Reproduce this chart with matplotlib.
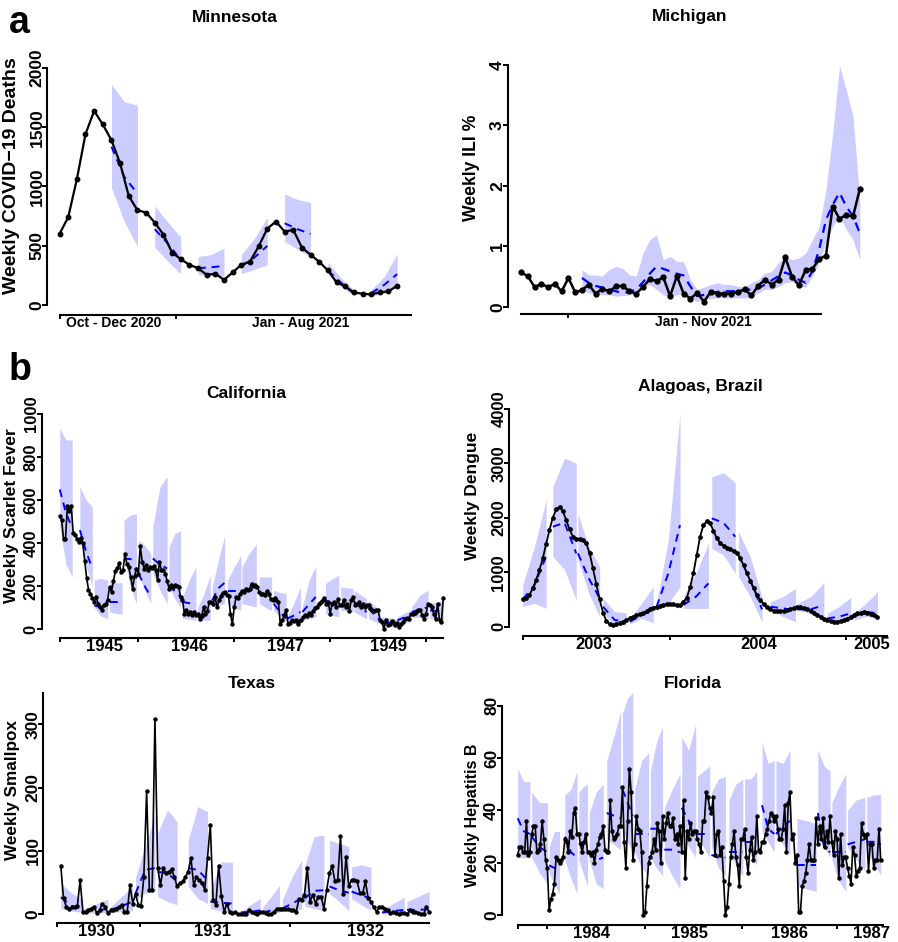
import numpy as np
import matplotlib.pyplot as plt

plt.rcParams['font.family'] = ['Liberation Sans', 'DejaVu Sans']
plt.rcParams['font.weight'] = 'bold'

W, H = 898, 942
BAND = '#ccccff'
MED = '#0000ff'

# ---------------- data ----------------
# Minnesota, weekly COVID-19 deaths
mn_obs = [600, 740, 1060, 1442, 1638, 1523, 1391, 1195, 920, 800, 780, 696, 595, 443, 387,
          340, 311, 255, 264, 213, 275, 340, 367, 494, 645, 704, 620, 634, 485, 424, 365,
          292, 191, 157, 107, 95, 90, 107, 115, 163]
mn_seg = [(6, 9), (11, 14), (16, 19), (21, 24), (26, 29), (31, 34), (36, 39)]
mn_hi = [[1860, 1715, 1685], [836, 700, 572], [410, 425, 480], [424, 560, 740],
         [937, 890, 867], [359, 230, 129], [129, 240, 432]]
mn_lo = [[990, 700, 494], [488, 370, 264], [255, 250, 241], [264, 300, 340],
         [536, 470, 410], [275, 160, 73], [73, 100, 157]]
mn_med = [[1335, 1080, 940], [640, 520, 381], [311, 318, 331], [325, 400, 499],
          [690, 640, 600], [292, 190, 95], [101, 170, 261]]

# Michigan, weekly ILI %
mi_obs = [0.57, 0.51, 0.33, 0.38, 0.33, 0.38, 0.26, 0.48, 0.24, 0.28, 0.37, 0.22, 0.30,
          0.26, 0.34, 0.35, 0.26, 0.22, 0.33, 0.46, 0.43, 0.49, 0.18, 0.51, 0.22, 0.14,
          0.23, 0.09, 0.25, 0.22, 0.22, 0.22, 0.25, 0.29, 0.19, 0.35, 0.45, 0.37, 0.45,
          0.82, 0.50, 0.36, 0.61, 0.63, 0.79, 0.85, 1.66, 1.46, 1.52, 1.50, 1.95]
mi_band_start = 9
mi_hi = [0.62, 0.53, 0.53, 0.51, 0.62, 0.67, 0.64, 0.53, 0.51, 0.89, 1.11, 1.19, 0.78, 0.84,
         0.75, 0.75, 0.45, 0.29, 0.33, 0.37, 0.40, 0.37, 0.37, 0.34, 0.33, 0.40, 0.45, 0.56,
         0.59, 0.73, 0.84, 0.78, 0.81, 0.89, 1.11, 1.33, 1.94, 2.87, 3.99, 3.59, 3.15, 1.77]
mi_lo = [0.28, 0.23, 0.22, 0.20, 0.20, 0.18, 0.19, 0.20, 0.23, 0.34, 0.37, 0.29, 0.20, 0.18,
         0.20, 0.23, 0.15, 0.09, 0.12, 0.14, 0.15, 0.15, 0.15, 0.15, 0.15, 0.16, 0.23, 0.29,
         0.29, 0.34, 0.40, 0.42, 0.34, 0.33, 0.51, 0.73, 1.06, 1.33, 1.50, 1.28, 1.11, 0.78]
mi_med = [0.48, 0.40, 0.35, 0.32, 0.29, 0.26, 0.23, 0.25, 0.29, 0.41, 0.55, 0.67, 0.63, 0.59,
          0.55, 0.52, 0.34, 0.18, 0.20, 0.23, 0.25, 0.26, 0.26, 0.26, 0.28, 0.29, 0.31, 0.37,
          0.44, 0.51, 0.57, 0.52, 0.45, 0.40, 0.59, 0.95, 1.44, 1.69, 1.89, 1.66, 1.50, 1.22]

# California, weekly scarlet fever
ca_obs = [526, 506, 418, 418, 573, 550, 573, 447, 435, 420, 405, 424, 398, 317, 239, 183, 165,
          146, 126, 149, 118, 102, 90, 110, 118, 137, 196, 172, 224, 269, 284, 307, 266, 273,
          351, 301, 286, 242, 188, 245, 281, 258, 387, 312, 281, 297, 273, 289, 284, 293, 273,
          230, 312, 276, 276, 258, 224, 188, 203, 193, 203, 200, 196, 149, 137, 68, 87, 68, 79,
          64, 79, 64, 68, 48, 59, 102, 68, 84, 126, 126, 118, 149, 102, 134, 152, 168, 172, 157,
          155, 71, 22, 102, 149, 146, 162, 177, 172, 188, 183, 188, 211, 199, 203, 196, 172, 165,
          165, 157, 177, 162, 141, 134, 146, 137, 126, 22, 40, 64, 90, 25, 28, 40, 37, 40, 22,
          36, 40, 56, 64, 59, 75, 64, 84, 99, 102, 118, 126, 134, 146, 118, 126, 71, 118, 126,
          102, 141, 110, 110, 134, 102, 118, 84, 134, 149, 110, 118, 126, 102, 118, 102, 110,
          110, 99, 90, 84, 90, 87, 43, 33, 0, 40, 17, 25, 37, 33, 20, 28, 9, 22, 33, 48, 53, 48,
          71, 71, 75, 79, 87, 90, 64, 48, 71, 118, 110, 102, 71, 48, 118, 40, 33, 146]
ca_seg = [(0, 6.5), (10.5, 17), (18, 25), (26, 32.5), (33.5, 40), (41, 47.5), (48.5, 56),
          (57, 63), (64, 71), (72, 78.5), (79.5, 86), (87.5, 94.5), (95, 102.5), (104, 110.5),
          (111.5, 118), (118.5, 125.5), (126.5, 133.5), (138.5, 145.5), (146.5, 153),
          (153.5, 160), (161, 167), (168, 175), (176, 182.5), (183.5, 192), (193, 200)]
ca_hi = [[933, 880, 879], [662, 600, 568], [227, 235, 227], [225, 215, 215], [506, 530, 537],
         [413, 390, 351], [475, 662, 708], [382, 444, 457], [149, 227, 289], [102, 165, 250],
         [196, 320, 436], [227, 289, 343], [289, 351, 394], [242, 242, 242], [180, 170, 165],
         [56, 118, 196], [102, 227, 292], [211, 234, 250], [196, 192, 188], [180, 160, 141],
         [134, 110, 87], [56, 52, 48], [56, 72, 87], [102, 157, 180], [118, 126, 134]]
ca_lo = [[475, 300, 242], [444, 290, 200], [100, 60, 48], [80, 72, 68], [335, 200, 118],
         [258, 180, 118], [258, 180, 118], [196, 140, 102], [48, 45, 40], [40, 40, 40],
         [102, 110, 118], [118, 100, 87], [118, 110, 102], [118, 100, 87], [87, 60, 33],
         [33, 33, 33], [40, 48, 56], [71, 64, 56], [87, 83, 79], [79, 63, 48], [48, 36, 25],
         [17, 13, 9], [25, 29, 33], [56, 52, 48], [48, 44, 40]]
ca_med = [[649, 540, 470], [460, 360, 281], [110, 100, 95], [125, 125, 125], [328, 325, 320],
          [258, 200, 149], [328, 300, 281], [203, 175, 149], [126, 120, 118], [56, 70, 84],
          [134, 190, 215], [177, 177, 177], [177, 182, 188], [172, 155, 141], [118, 80, 48],
          [48, 62, 79], [79, 115, 149], [134, 118, 102], [110, 110, 110], [126, 100, 79],
          [95, 68, 40], [33, 29, 25], [40, 52, 64], [79, 90, 102], [87, 83, 79]]

# Alagoas, Brazil, weekly dengue
al_obs = [502, 533, 582, 704, 858, 1041, 1256, 1519, 1777, 2003, 2156, 2205, 2126, 1960, 1789,
          1654, 1617, 1611, 1593, 1532, 1348, 1072, 778, 502, 257, 104, 49, 25, 43, 61, 92, 123,
          153, 184, 208, 233, 257, 288, 319, 349, 368, 386, 398, 410, 410, 410, 404, 398, 459,
          521, 723, 980, 1317, 1654, 1868, 1942, 1899, 1764, 1623, 1544, 1489, 1452, 1421, 1391,
          1348, 1256, 1133, 980, 845, 704, 582, 490, 417, 355, 319, 294, 288, 288, 294, 306, 325,
          343, 355, 355, 349, 331, 294, 257, 221, 184, 147, 123, 104, 92, 92, 104, 123, 147, 184,
          214, 245, 257, 270, 257, 233, 208, 184]
al_seg = [(0, 7), (9, 16), (16.5, 23), (24, 31), (32, 39), (40, 47), (48, 55.5), (56.5, 63.5),
          (64.5, 71.5), (74, 81.5), (82, 90), (91, 98), (99, 106)]
al_hi = [[766, 1470, 2328], [2573, 3100, 3002], [2083, 1470, 1103], [521, 276, 257],
         [153, 429, 735], [429, 1593, 3921], [551, 980, 1532], [2757, 2830, 2647],
         [1746, 1286, 551], [459, 551, 704], [429, 551, 809], [245, 368, 539], [245, 429, 643]]
al_lo = [[368, 429, 337], [1286, 1050, 490], [1225, 613, 184], [245, 31, 31], [49, 153, 74],
         [294, 429, 735], [337, 337, 337], [1440, 1317, 980], [919, 551, 92], [337, 184, 92],
         [306, 245, 153], [92, 74, 123], [123, 184, 172]]
al_med = [[502, 760, 1290], [1838, 1911, 1348], [1348, 888, 521], [368, 123, 92], [92, 214, 306],
          [368, 980, 1868], [398, 551, 796], [1991, 1911, 1654], [1317, 858, 319], [368, 337, 306],
          [319, 319, 398], [153, 184, 245], [184, 276, 245]]

# Texas, weekly smallpox
tx_obs = [77, 25, 12, 9, 11, 12, 13, 54, 4, 4, 6, 9, 12, 2, 6, 17, 12, 2, 6, 7, 9, 11, 15, 4, 4,
          46, 17, 32, 15, 13, 59, 194, 38, 38, 308, 73, 46, 73, 65, 67, 71, 59, 44, 49, 52, 59,
          67, 89, 46, 59, 54, 49, 39, 89, 141, 23, 15, 77, 29, 4, 17, 3, 2, 3, 0, 0, 0, 0, 7, 4,
          2, 0, 4, 4, 2, 0, 0, 4, 9, 9, 9, 9, 8, 6, 6, 4, 24, 23, 31, 73, 20, 31, 17, 28, 28, 9,
          38, 65, 76, 52, 54, 123, 32, 91, 44, 54, 54, 52, 34, 33, 52, 25, 20, 11, 4, 12, 12, 9,
          6, 2, 3, 2, 0, 2, 2, 0, 6, 3, 4, 2, 0, 0, 12, 3]
tx_seg = [(0, 8), (9, 17), (18, 26), (27, 34), (35, 42), (46, 53), (54, 62), (65, 72), (73, 79),
          (80, 87), (88, 95), (97, 104), (105, 112), (116, 124), (125, 133)]
tx_hi = [[49, 33, 23], [9, 17, 24], [12, 28, 44], [59, 107, 157], [128, 165, 146],
         [117, 170, 162], [38, 83, 82], [4, 15, 25], [12, 28, 46], [23, 59, 86], [75, 123, 125],
         [117, 112, 107], [75, 78, 74], [7, 17, 27], [20, 28, 36]]
tx_lo = [[9, 5, 3], [2, 2, 2], [3, 4, 6], [23, 33, 36], [28, 20, 15], [44, 25, 17], [9, 5, 2],
         [0, 0, 0], [0.5, 2, 3], [4, 6, 8], [13, 9, 6], [33, 20, 6], [25, 15, 6],
         [0.5, 0.5, 0.5], [2, 2, 3]]
tx_med = [[27, 13, 8], [6, 7, 8], [7, 13, 20], [33, 70, 73], [67, 65, 52], [73, 70, 54],
          [20, 18, 17], [3, 4, 6], [3, 6, 9], [9, 17, 25], [25, 37, 38], [44, 38, 34],
          [36, 30, 25], [3, 5, 7], [7, 7, 8]]

# Florida, weekly hepatitis B
fl_obs = [23, 26, 26, 24, 24, 36, 23, 24, 31, 34, 34, 24, 25, 27, 36, 29, 21, 18, 2, 6,
          8, 12, 22, 21, 20, 21, 22, 29, 28, 24, 32, 30, 39, 41, 31, 31, 27, 24, 28, 31,
          24, 24, 23, 24, 20, 25, 27, 30, 31, 34, 25, 24, 24, 44, 32, 29, 30, 31, 34, 34,
          49, 28, 18, 36, 56, 47, 21, 27, 38, 33, 32, 24, 0, 1, 11, 20, 22, 24, 29, 25,
          35, 32, 20, 38, 29, 35, 39, 34, 34, 37, 29, 31, 27, 34, 24, 44, 14, 32, 29, 35,
          31, 32, 32, 29, 27, 24, 36, 36, 47, 45, 41, 39, 45, 23, 31, 32, 23, 26, 13, 0,
          3, 12, 22, 27, 32, 22, 19, 11, 29, 29, 33, 22, 16, 25, 30, 21, 24, 38, 25, 24,
          28, 28, 31, 33, 36, 39, 38, 36, 38, 33, 29, 29, 33, 42, 24, 43, 47, 29, 31, 20,
          23, 1, 1, 11, 13, 16, 21, 27, 21, 21, 21, 37, 27, 34, 29, 37, 26, 32, 28, 38,
          28, 23, 32, 29, 14, 31, 19, 22, 22, 18, 15, 12, 26, 23, 15, 17, 18, 35, 31, 30,
          31, 17, 27, 27, 18, 21, 21, 33, 21]
fl_seg = [(0, 7), (8, 17), (18, 24), (27, 34), (35, 40), (41, 49), (51, 59), (60, 66), (67, 75),
          (76, 83), (84, 93), (94, 102), (103, 110), (111, 119), (121, 129), (130, 137),
          (140, 147), (148, 156), (160, 171), (172, 179), (180, 188), (189, 199), (200, 208)]
fl_hi = [[56, 51, 51], [47, 43, 43], [26, 32, 32], [46, 48, 55], [47, 49, 50], [39, 47, 50],
         [59, 68, 78], [77, 83, 85], [48, 59, 62], [55, 66, 72], [41, 48, 54], [68, 63, 73],
         [53, 55, 57], [47, 52, 53], [44, 50, 52], [52, 52, 55], [66, 58, 59], [59, 58, 63],
         [37, 36, 35], [63, 57, 55], [43, 49, 54], [40, 44, 45], [45, 46, 46]]
fl_lo = [[22, 22, 22], [22, 16, 12], [16, 12, 8], [21, 14, 8], [21, 16, 11], [21, 12, 10],
         [29, 27, 25], [32, 28, 24], [24, 18, 15], [22, 18, 15], [21, 15, 10], [31, 26, 22],
         [30, 26, 22], [26, 18, 15], [24, 19, 15], [27, 23, 19], [32, 28, 24], [30, 27, 23],
         [11, 10, 9], [31, 26, 22], [21, 13, 9], [26, 21, 17], [24, 20, 15]]
fl_med = [[37, 32, 31], [30, 26, 24], [19, 18, 17], [30, 24, 22], [27, 28, 28], [24, 21, 22],
          [39, 38, 37], [48, 43, 38], [31, 31, 31], [33, 33, 32], [25, 25, 24], [41, 36, 31],
          [31, 31, 31], [23, 22, 22], [24, 24, 24], [28, 28, 28], [42, 33, 31], [31, 34, 36],
          [19, 19, 19], [39, 26, 24], [24, 24, 24], [27, 28, 29], [28, 28, 27]]


fig = plt.figure(figsize=(W / 100, H / 100), dpi=100)


def add_panel(rect, xlim, ylim):
    l, t, r, b = rect
    ax = fig.add_axes([l / W, 1 - b / H, (r - l) / W, (b - t) / H])
    ax.set_xlim(*xlim)
    ax.set_ylim(*ylim)
    ax.patch.set_alpha(0)
    ax.spines['top'].set_visible(False)
    ax.spines['right'].set_visible(False)
    for s in ['left', 'bottom']:
        ax.spines[s].set_linewidth(1.5)
    return ax


def draw_segments(ax, segs, lo, hi, med):
    for (a, b), l, h, m in zip(segs, lo, hi, med):
        xs = [a, (a + b) / 2, b]
        ax.fill_between(xs, l, h, color=BAND, lw=0, zorder=1)
        ax.plot(xs, m, color=MED, lw=1.4, ls=(0, (4, 3)), zorder=2)


def draw_obs(ax, obs, lw, ms):
    ax.plot(np.arange(len(obs)), obs, color='black', lw=lw, marker='o', ms=ms, zorder=3)


def style(ax, yticks, ybound, xticks, xbound, lab_pos, labs, tick_fs, lab_fs):
    ax.spines['left'].set_bounds(*ybound)
    ax.spines['bottom'].set_bounds(*xbound)
    ax.set_yticks(yticks)
    ax.set_yticklabels([str(v) for v in yticks], rotation=90, va='center',
                       fontsize=tick_fs, fontweight='bold')
    ax.tick_params(axis='y', length=3.3, width=1.4, pad=-1.2)
    ax.set_xticks(xticks)
    ax.set_xticklabels([])
    ax.set_xticks(lab_pos, minor=True)
    ax.set_xticklabels(labs, minor=True, fontsize=lab_fs, fontweight='bold')
    ax.tick_params(axis='x', which='major', length=3, width=1.4)
    ax.tick_params(axis='x', which='minor', length=0, pad=1)


def ftext(x, y, s, size, rot=0, ha='center', va='center'):
    fig.text(x / W, 1 - y / H, s, fontsize=size, fontweight='bold',
             rotation=rot, ha=ha, va=va)


# Minnesota
ax = add_panel((47.4, 56.1, 411, 315), (-1.4, 40.6), (-84, 2100))
draw_segments(ax, mn_seg, mn_lo, mn_hi, mn_med)
draw_obs(ax, mn_obs, 1.6, 3.2)
style(ax, [0, 500, 1000, 1500, 2000], (0, 2000), [0, 13.5], (0, 40.6),
      [6.25, 27.9], ['Oct - Dec 2020', 'Jan - Aug 2021'], 12.5, 10)

# Michigan
ax = add_panel((508, 52.9, 866.6, 314), (-1.92, 51), (-0.116, 4.2))
xb = np.arange(mi_band_start, mi_band_start + len(mi_hi))
ax.fill_between(xb, mi_lo, mi_hi, color=BAND, lw=0, zorder=1)
ax.plot(xb, mi_med, color=MED, lw=1.6, ls=(0, (4, 3)), zorder=2)
draw_obs(ax, mi_obs, 1.8, 3.5)
style(ax, [0, 1, 2, 3, 4], (0, 4), [7], (0, 44.3), [26.9], ['Jan - Nov 2021'], 12.5, 10)

# California
ax = add_panel((41.5, 403.25, 449.1, 638), (-9.5, 203), (-42, 1050))
draw_segments(ax, ca_seg, ca_lo, ca_hi, ca_med)
draw_obs(ax, ca_obs, 1.2, 2.2)
style(ax, [0, 200, 400, 600, 800, 1000], (0, 1000), [0, 41, 90.9, 141.1, 190.8], (0, 200),
      [23.4, 67.5, 117.7, 171.4], ['1945', '1946', '1947', '1949'], 12, 12)

# Alagoas
ax = add_panel((509.3, 403.6, 887.5, 635.7), (-4.0, 109), (-165, 4100))
draw_segments(ax, al_seg, al_lo, al_hi, al_med)
draw_obs(ax, al_obs, 1.3, 2.4)
style(ax, [0, 1000, 2000, 3000, 4000], (0, 4000), [0, 44, 96.6], (0, 108.8),
      [21.3, 70.4, 104.3], ['2003', '2004', '2005'], 12, 12)

# Texas
ax = add_panel((43.3, 686.3, 431.9, 922.7), (-6.3, 134), (-13.3, 360))
draw_segments(ax, tx_seg, tx_lo, tx_hi, tx_med)
draw_obs(ax, tx_obs, 1.2, 2.2)
style(ax, [0, 100, 200, 300], (0, 350), [-1.2, 28.6, 82.6], (-1.2, 133),
      [13, 54.9, 110.2], ['1930', '1931', '1932'], 12.5, 12)

# Florida
ax = add_panel((502, 684.8, 884.2, 925), (-9, 210), (-3.8, 88))
draw_segments(ax, fl_seg, fl_lo, fl_hi, fl_med)
draw_obs(ax, fl_obs, 1.2, 2.2)
style(ax, [0, 20, 40, 60, 80], (0, 80), [0, 16.6, 73, 128.3, 183.2], (0, 209.5),
      [42.4, 98.7, 156, 202.8], ['1984', '1985', '1986', '1987'], 12.5, 12)

# titles
ftext(235, 18, 'Minnesota', 12.5)
ftext(690, 17, 'Michigan', 12.5)
ftext(246, 393, 'California', 12.5)
ftext(700, 387, 'Alagoas, Brazil', 12.5)
ftext(252, 683, 'Texas', 12.5)
ftext(693, 683, 'Florida', 12.5)

# y labels
ftext(12, 176, 'Weekly COVID\u221219 Deaths', 14, rot=90)
ftext(472, 168, 'Weekly ILI %', 12.7, rot=90)
ftext(12, 516, 'Weekly Scarlet Fever', 12.6, rot=90)
ftext(472, 496, 'Weekly Dengue', 12.5, rot=90)
ftext(13, 790, 'Weekly Smallpox', 12.3, rot=90)
ftext(472, 815, 'Weekly Hepatitis B', 11.5, rot=90)

# panel letters
ftext(9, 33, 'a', 27, ha='left', va='baseline')
ftext(9, 380, 'b', 27, ha='left', va='baseline')

fig.savefig('out.png', dpi=100)
